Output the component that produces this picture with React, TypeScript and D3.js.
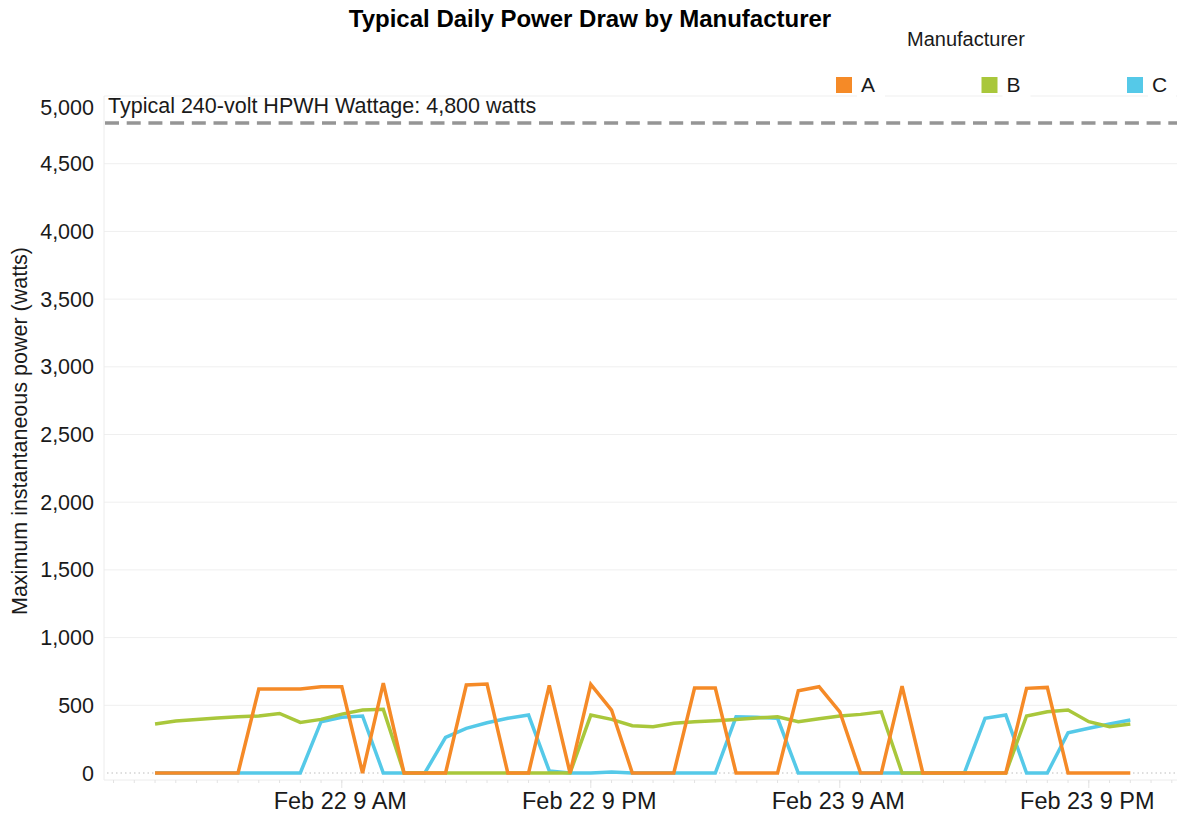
import React from 'react';
import * as d3 from 'd3';

// hourly readings, Feb 22 00:00 -> Feb 23 23:00
const startTime = new Date(2023, 1, 22, 0, 0);
const hours = d3.timeHour.range(startTime, new Date(2023, 1, 24, 0, 0));

const seriesNames = ['A', 'B', 'C'];
const seriesColors = ['#f58a27', '#a9c73b', '#55c9e8'];

const valuesA = [0, 0, 0, 0, 0, 620, 620, 620, 637, 637, 0, 664, 0, 0, 0, 650, 657, 0, 0, 647, 0, 655, 465, 0,
  0, 0, 627, 627, 0, 0, 0, 607, 637, 452, 0, 0, 642, 0, 0, 0, 0, 0, 625, 632, 0, 0, 0, 0];
const valuesB = [362, 384, 396, 406, 415, 421, 440, 374, 396, 435, 465, 470, 0, 0, 0, 0, 0, 0, 0, 0, 0, 428, 396, 349,
  342, 367, 379, 386, 396, 406, 415, 379, 401, 421, 433, 452, 0, 0, 0, 0, 0, 0, 421, 452, 465, 379, 342, 362];
const valuesC = [0, 0, 0, 0, 0, 0, 0, 0, 379, 411, 421, 0, 0, 0, 263, 330, 371, 404, 428, 15, 0, 0, 8, 0,
  0, 0, 0, 0, 415, 411, 404, 0, 0, 0, 0, 0, 0, 0, 0, 0, 404, 428, 0, 0, 297, 330, 362, 391];

const yTicks = [0, 500, 1000, 1500, 2000, 2500, 3000, 3500, 4000, 4500, 5000];
const xTickValues = [
  new Date(2023, 1, 22, 9), new Date(2023, 1, 22, 21),
  new Date(2023, 1, 23, 9), new Date(2023, 1, 23, 21),
];
const referenceValue = 4800;
const referenceLabel = 'Typical 240-volt HPWH Wattage: 4,800 watts';

const W = 1177;
const H = 816;
const font = '"Liberation Sans", Arial, sans-serif';

export default function App() {
  const pane = { left: 104, right: 1177, top: 96, bottom: 780 };
  const hourMs = 3600 * 1000;

  const x = d3.scaleTime()
    .domain([new Date(+startTime - 2.46 * hourMs), new Date(+startTime + 49.25 * hourMs)])
    .range([pane.left, pane.right]);
  const y = d3.scaleLinear().domain([0, 5000]).range([773, pane.top]);

  const series = [valuesC, valuesB, valuesA]; // C underneath, A on top
  const order = [2, 1, 0];

  const line = d3.line<number>()
    .x((d, i) => x(hours[i]))
    .y((d) => y(d));

  const fmt = d3.timeFormat('%b %-d %-I %p');
  const minorTicks = x.ticks(d3.timeHour.every(1)!);

  return (
    <svg width={W} height={H} style={{ position: 'absolute', left: 0, top: 0, background: '#fff' }}
      fontFamily={font}>
      {/* title */}
      <text x={590} y={27} textAnchor="middle" fontSize={24} fontWeight="bold" fill="#000">
        Typical Daily Power Draw by Manufacturer
      </text>

      {/* grid */}
      {yTicks.filter((t) => t > 0).map((t) => (
        <line key={t} x1={pane.left} x2={pane.right} y1={y(t)} y2={y(t)} stroke="#efefef" strokeWidth={1} />
      ))}
      <line x1={pane.left} x2={pane.left} y1={pane.top} y2={pane.bottom} stroke="#ececec" />
      <line x1={pane.left} x2={pane.right} y1={pane.bottom} y2={pane.bottom} stroke="#ececec" />
      <line x1={pane.left + 3} x2={pane.right} y1={y(0)} y2={y(0)} stroke="#bdbdbd"
        strokeWidth={1} strokeDasharray="1.5,3" />

      {/* hourly ticks */}
      {minorTicks.map((t, i) => (
        <line key={i} x1={x(t)} x2={x(t)} y1={pane.bottom} y2={pane.bottom + 3} stroke="#e3e3e3" />
      ))}
      {xTickValues.map((t, i) => (
        <g key={i}>
          <line x1={x(t)} x2={x(t)} y1={pane.bottom} y2={pane.bottom + 8} stroke="#e3e3e3" />
          <text x={x(t) - 1.5} y={809} textAnchor="middle" fontSize={23.5} fill="#1a1a1a">{fmt(t)}</text>
        </g>
      ))}

      {/* y labels */}
      {yTicks.map((t) => (
        <text key={t} x={94} y={Math.max(y(t), pane.top + 11)} dy="0.35em" textAnchor="end"
          fontSize={21.5} fill="#1a1a1a">{d3.format(',')(t)}</text>
      ))}
      <text transform={`translate(27,431) rotate(-90)`} textAnchor="middle" fontSize={21.5} fill="#1a1a1a">
        Maximum instantaneous power (watts)
      </text>

      {/* reference line */}
      <line x1={pane.left + 1} x2={pane.right} y1={y(referenceValue)} y2={y(referenceValue)}
        stroke="#959595" strokeWidth={3.5} strokeDasharray="14,7.7" />
      <text x={108} y={113} fontSize={21.5} fill="#1a1a1a">{referenceLabel}</text>

      {/* series */}
      {series.map((vals, k) => (
        <path key={k} d={line(vals) || ''} fill="none" stroke={seriesColors[order[k]]}
          strokeWidth={3.5} strokeLinejoin="miter" />
      ))}

      {/* legend */}
      <text x={907} y={46} fontSize={20} fill="#1a1a1a">Manufacturer</text>
      {seriesNames.map((name, i) => {
        const lx = 836 + i * 145.5;
        return (
          <g key={name}>
            <rect x={lx + 21} y={74} width={28} height={24} fill="#fff" />
            <rect x={lx} y={77} width={16} height={16} fill={seriesColors[i]} />
            <text x={lx + 25} y={92} fontSize={21} fill="#1a1a1a">{name}</text>
          </g>
        );
      })}
    </svg>
  );
}
